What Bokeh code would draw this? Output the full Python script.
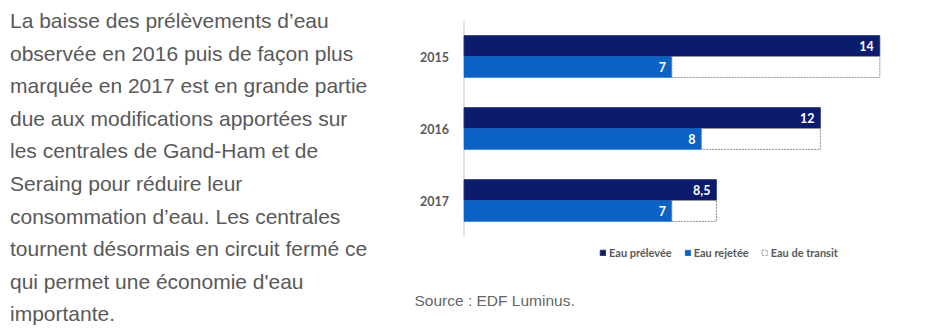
from bokeh.plotting import figure
from bokeh.layouts import row
from bokeh.models import (ColumnDataSource, Range1d, Div, Legend, LegendItem, Label)
from bokeh.core.properties import value
from bokeh.embed import file_html
from bokeh.resources import INLINE

# Water volumes per year
years = ["2015", "2016", "2017"]
eau_prelevee = [14, 12, 8.5]
eau_rejetee = [7, 8, 7]

series_names = ["Eau prélevée", "Eau rejetée", "Eau de transit"]
source_text = "Source : EDF Luminus."

paragraph_lines = [
    "La baisse des prélèvements d’eau",
    "observée en 2016 puis de façon plus",
    "marquée en 2017 est en grande partie",
    "due aux modifications apportées sur",
    "les centrales de Gand-Ham et de",
    "Seraing pour réduire leur",
    "consommation d’eau. Les centrales",
    "tournent désormais en circuit fermé ce",
    "qui permet une économie d'eau",
    "importante.",
]

DARK = "#0c1c6c"
LIGHT = "#0b61c4"
GREY_TXT = "#595959"

def fmt(v):
    s = ("%g" % v)
    return s.replace(".", ",")

idx = list(range(len(years)))
transit = [p - r for p, r in zip(eau_prelevee, eau_rejetee)]
BAR_H = 0.29
OFF = BAR_H / 2

src = ColumnDataSource(dict(
    idx=idx,
    year=years,
    y_top=[i - OFF for i in idx],
    y_bot=[i + OFF for i in idx],
    prelevee=eau_prelevee,
    rejetee=eau_rejetee,
    transit=transit,
    lab_p=[fmt(v) for v in eau_prelevee],
    lab_r=[fmt(v) for v in eau_rejetee],
))

PX = 29.7          # pixels per unit on the value axis
ROW = 72.0         # pixels per year row
W, H = 538, 330
x0_px, y0_px = 63.5, 56.0

p = figure(width=W, height=H, output_backend="svg", toolbar_location=None,
           x_range=Range1d(-x0_px / PX, (W - x0_px) / PX),
           y_range=Range1d((H - y0_px) / ROW, -y0_px / ROW),
           min_border=0, outline_line_color=None)
p.axis.visible = False
p.grid.visible = False
p.background_fill_color = "white"

# vertical baseline of the category axis
p.segment(x0=[0], x1=[0], y0=[-0.5], y1=[len(years) - 0.5],
          line_color="#c6c6c6", line_width=1)

r_p = p.hbar(y="y_top", left=0, right="prelevee", height=BAR_H, source=src,
             fill_color=DARK, line_color="#2a3370", line_width=0.8)
r_r = p.hbar(y="y_bot", left=0, right="rejetee", height=BAR_H, source=src,
             fill_color=LIGHT, line_color=LIGHT, line_width=0.5)
r_t = p.hbar(y="y_bot", left="rejetee", right="prelevee", height=BAR_H, source=src,
             fill_color="white", line_color="#8f8f8f", line_width=1, line_dash="2 1")

# year labels
p.text(x=0, y="idx", text="year", source=src, x_offset=-15,
       text_align="right", text_baseline="middle", text_color=GREY_TXT,
       text_font=value("Lato"), text_font_style="bold", text_font_size="12.5px")

# value labels inside bar ends
p.text(x="prelevee", y="y_top", text="lab_p", source=src, x_offset=-6,
       text_align="right", text_baseline="middle", text_color="white",
       text_font=value("Lato"), text_font_style="bold", text_font_size="12.5px")
p.text(x="rejetee", y="y_bot", text="lab_r", source=src, x_offset=-6,
       text_align="right", text_baseline="middle", text_color="white",
       text_font=value("Lato"), text_font_style="bold", text_font_size="12.5px")

legend = Legend(items=[LegendItem(label=series_names[0], renderers=[r_p]),
                       LegendItem(label=series_names[1], renderers=[r_r]),
                       LegendItem(label=series_names[2], renderers=[r_t])],
                orientation="horizontal", location=(199, 71),
                glyph_width=7, glyph_height=7, label_standoff=3, spacing=12,
                padding=0, margin=0, border_line_color=None,
                background_fill_alpha=0,
                label_text_font="Lato", label_text_font_style="bold",
                label_text_font_size="11px", label_text_color=GREY_TXT,
                label_height=11)
p.add_layout(legend)

p.add_layout(Label(x=14, y=30, x_units="screen", y_units="screen",
                   text=source_text, text_font="Liberation Sans",
                   text_font_size="15.5px", text_color="#666666",
                   text_baseline="alphabetic"))

div = Div(text="<br>".join(paragraph_lines), width=400, height=330,
          styles={"font-family": "'Liberation Sans', Arial, sans-serif",
                  "font-size": "21px", "line-height": "32.6px",
                  "color": "#595959", "padding-left": "10px",
                  "padding-top": "5px", "white-space": "nowrap",
                  "box-sizing": "border-box", "margin": "0"})

layout = row(div, p, spacing=0)
open("out.html", "w").write(file_html(layout, INLINE))
